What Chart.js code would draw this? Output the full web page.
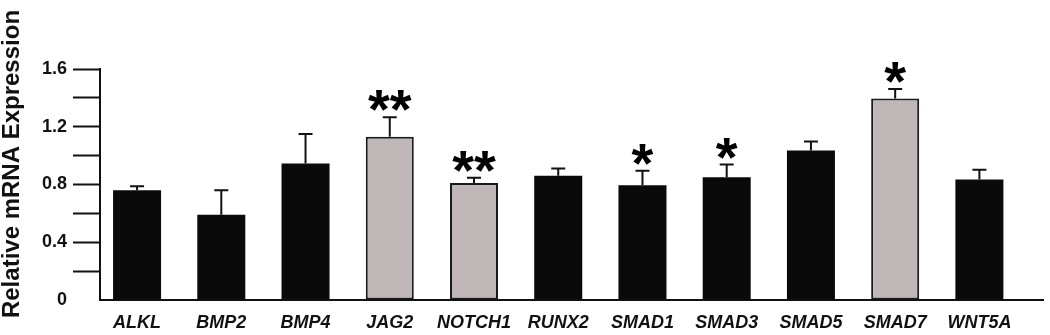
<!DOCTYPE html>
<html>
<head>
<meta charset="UTF-8">
<script src="https://cdn.jsdelivr.net/npm/chart.js"></script>
<style>
  body { margin: 0; background: #fff; }
  #wrap { width: 1050px; height: 335px; position: relative; }
</style>
</head>
<body>
<div id="wrap"><canvas id="mrnaChart"></canvas></div>
<script>
// genes and relative expression (mean, upper error)
const genes = ['ALKL', 'BMP2', 'BMP4', 'JAG2', 'NOTCH1', 'RUNX2', 'SMAD1', 'SMAD3', 'SMAD5', 'SMAD7', 'WNT5A'];
const expression = [0.76, 0.59, 0.945, 1.13, 0.81, 0.86, 0.795, 0.85, 1.035, 1.395, 0.835];
const errorUp = [0.028, 0.17, 0.205, 0.135, 0.037, 0.05, 0.1, 0.088, 0.063, 0.067, 0.067];
const significance = ['', '', '', '**', '**', '', '*', '*', '', '*', ''];
const group = ['other', 'other', 'other', 'notch', 'notch', 'other', 'other', 'other', 'other', 'notch', 'other'];
const yTicks = [0, 0.4, 0.8, 1.2, 1.6];

const FONT = "'Liberation Sans', Arial, sans-serif";

// error bars (upward only) + asterisks
const errorBarPlugin = {
    id: 'errorBars',
    afterDatasetsDraw(chart) {
        const ctx = chart.ctx;
        const yScale = chart.scales.y;
        const meta = chart.getDatasetMeta(0);
        ctx.save();
        meta.data.forEach((bar, i) => {
            const top = yScale.getPixelForValue(expression[i] + errorUp[i]);
            ctx.strokeStyle = '#111';
            ctx.lineWidth = 2;
            ctx.beginPath();
            ctx.moveTo(bar.x, bar.y);
            ctx.lineTo(bar.x, top);
            ctx.moveTo(bar.x - 7, top);
            ctx.lineTo(bar.x + 7, top);
            ctx.stroke();

            if (significance[i]) {
                ctx.font = 'bold 56px ' + FONT;
                ctx.fillStyle = '#000';
                ctx.textAlign = 'center';
                ctx.textBaseline = 'alphabetic';
                const m = ctx.measureText(significance[i]);
                ctx.fillText(significance[i], bar.x, top - 6 - m.actualBoundingBoxDescent);
            }
        });
        ctx.restore();
    }
};

// rotated y title
const yTitlePlugin = {
    id: 'yTitle',
    afterDraw(chart) {
        const ctx = chart.ctx;
        ctx.save();
        ctx.translate(12, 164);
        ctx.rotate(-Math.PI / 2);
        ctx.font = 'bold 24px ' + FONT;
        ctx.fillStyle = '#111';
        ctx.textAlign = 'center';
        ctx.textBaseline = 'middle';
        ctx.fillText('Relative mRNA Expression', 0, 0);
        ctx.restore();
    }
};

new Chart(document.getElementById('mrnaChart'), {
    type: 'bar',
    data: {
        datasets: [{
            data: expression.map((v, i) => ({ x: i, y: v })),
            backgroundColor: group.map(g => g === 'notch' ? '#bfb7b7' : '#0a0a0a'),
            borderColor: '#1a1a1a',
            borderWidth: group.map(g => g === 'notch' ? 2 : 0),
            borderSkipped: false,
            barPercentage: 0.57,
            categoryPercentage: 1
        }]
    },
    options: {
        responsive: true,
        maintainAspectRatio: false,
        animation: false,
        layout: { padding: { top: 69, right: 7, bottom: 0, left: 0 } },
        plugins: { legend: { display: false }, tooltip: { enabled: false } },
        scales: {
            x: {
                type: 'linear',
                offset: false,
                min: -0.44,
                max: 10.755,
                afterFit: (scale) => { scale.height = 35; },
                grid: { display: false, drawTicks: false },
                border: { display: true, color: '#111', width: 2 },
                afterBuildTicks: (scale) => { scale.ticks = genes.map((g, i) => ({ value: i })); },
                ticks: {
                    autoSkip: false,
                    maxRotation: 0,
                    padding: 12,
                    color: '#111',
                    font: { family: FONT, size: 18, weight: 'bold', style: 'italic' },
                    callback: (v) => genes[v]
                }
            },
            y: {
                min: 0,
                max: 1.6,
                afterFit: (scale) => { scale.width = 100; },
                grid: {
                    drawOnChartArea: false,
                    drawTicks: true,
                    tickLength: 27,
                    tickWidth: 2,
                    tickColor: (c) => c.tick && c.tick.value === 0 ? 'rgba(0,0,0,0)' : '#111'
                },
                border: { display: true, color: '#111', width: 2 },
                ticks: {
                    stepSize: 0.2,
                    padding: 6,
                    color: '#111',
                    font: { family: FONT, size: 18, weight: 'bold' },
                    callback: (v) => {
                        const r = Math.round(v * 10) / 10;
                        return yTicks.includes(r) ? (r === 0 ? '0' : r.toFixed(1)) : '';
                    }
                }
            }
        }
    },
    plugins: [errorBarPlugin, yTitlePlugin]
});
</script>
</body>
</html>
